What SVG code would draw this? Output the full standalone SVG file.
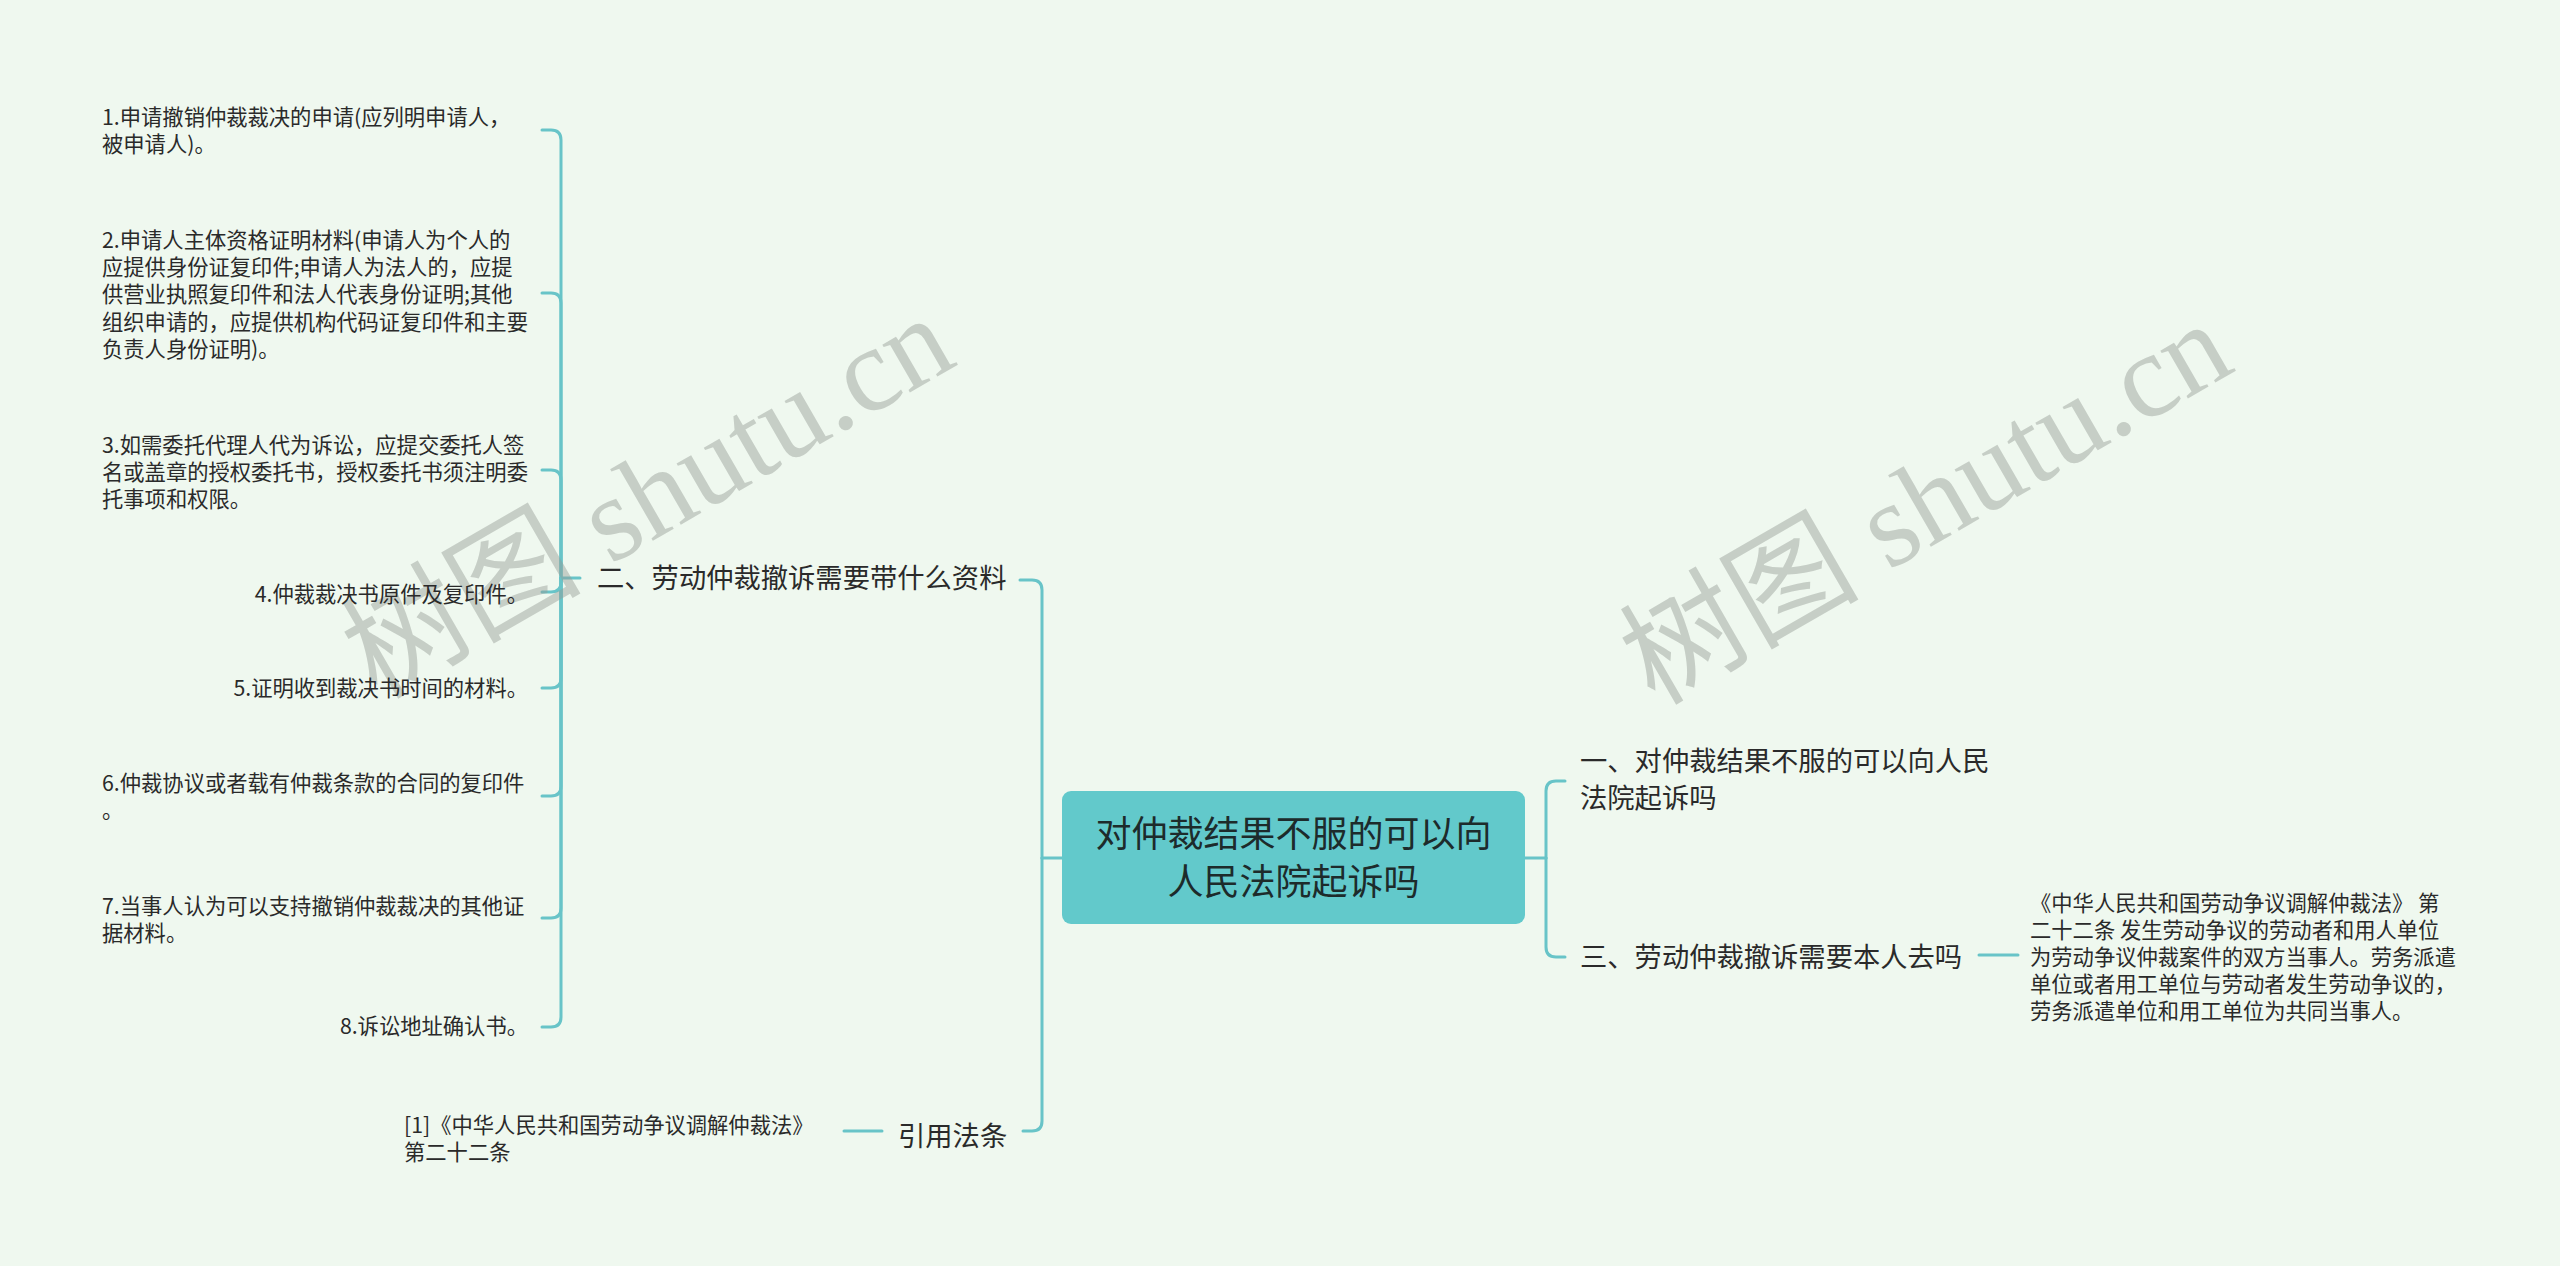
<svg xmlns="http://www.w3.org/2000/svg" width="2560" height="1266" viewBox="0 0 2560 1266">
<style>
.bg{fill:#EFF8EF}
.ln{fill:none;stroke:#68C4C8;stroke-width:3;stroke-linecap:round;stroke-linejoin:round}
.t{font-family:"Noto Sans CJK SC","Noto Sans",sans-serif;fill:#2a2a2a}
.leaf{font-size:21.3px}
.l1{font-size:27.3px}
.root{font-size:36px;fill:#1d2b2b}
.wm{font-family:"Liberation Serif","Noto Sans CJK SC",serif;font-size:120px;fill:#959b95;fill-opacity:0.45}
</style>
<rect class="bg" x="0" y="0" width="2560" height="1266"/>

<g id="connectors">
  <path class="ln" d="M580,578 L561,578"/>
  <path class="ln" d="M561,578 L561,140 Q561,130 551,130 L542,130"/>
  <path class="ln" d="M561,578 L561,303 Q561,293 551,293 L542,293"/>
  <path class="ln" d="M561,578 L561,480 Q561,470 551,470 L542,470"/>
  <path class="ln" d="M561,578 L561,582 Q561,592 551,592 L542,592"/>
  <path class="ln" d="M561,578 L561,678 Q561,688 551,688 L542,688"/>
  <path class="ln" d="M561,578 L561,786 Q561,796 551,796 L542,796"/>
  <path class="ln" d="M561,578 L561,908 Q561,918 551,918 L542,918"/>
  <path class="ln" d="M561,578 L561,1017 Q561,1027 551,1027 L542,1027"/>
  <path class="ln" d="M1062,858 L1042,858"/>
  <path class="ln" d="M1042,858 L1042,590 Q1042,580 1032,580 L1020,580"/>
  <path class="ln" d="M1042,858 L1042,1121 Q1042,1131 1032,1131 L1023,1131"/>
  <path class="ln" d="M882,1131 L844,1131"/>
  <path class="ln" d="M1525,858 L1546,858"/>
  <path class="ln" d="M1546,858 L1546,791 Q1546,781 1556,781 L1565,781"/>
  <path class="ln" d="M1546,858 L1546,947 Q1546,957 1556,957 L1565,957"/>
  <path class="ln" d="M1979,955 L2018,955"/>
</g>

<g id="watermarks">
  <text class="wm" x="0" y="0" text-anchor="middle" transform="translate(668,532) rotate(-30)">树图 shutu.cn</text>
  <text class="wm" x="0" y="0" text-anchor="middle" transform="translate(1946,538) rotate(-30)">树图 shutu.cn</text>
</g>

<g id="root">
  <rect x="1062" y="791" width="463" height="133" rx="9" ry="9" fill="#62C9CB"/>
  <text class="t root" text-anchor="middle" x="1293.5" y="847">对仲裁结果不服的可以向</text>
  <text class="t root" text-anchor="middle" x="1293.5" y="895">人民法院起诉吗</text>
</g>

<g id="n-er">
  <text class="t l1" x="597" y="588">二、劳动仲裁撤诉需要带什么资料</text>
</g>
<g id="n-yi">
  <text class="t l1" x="1580" y="771">一、对仲裁结果不服的可以向人民</text>
  <text class="t l1" x="1580" y="808">法院起诉吗</text>
</g>
<g id="n-san">
  <text class="t l1" x="1580" y="967">三、劳动仲裁撤诉需要本人去吗</text>
</g>
<g id="n-yinyong">
  <text class="t l1" x="898" y="1146">引用法条</text>
</g>

<g id="item1">
  <text class="t leaf" x="102" y="125">1.申请撤销仲裁裁决的申请(应列明申请人，</text>
  <text class="t leaf" x="102" y="152">被申请人)。</text>
</g>
<g id="item2">
  <text class="t leaf" x="102" y="248">2.申请人主体资格证明材料(申请人为个人的</text>
  <text class="t leaf" x="102" y="275">应提供身份证复印件;申请人为法人的，应提</text>
  <text class="t leaf" x="102" y="302">供营业执照复印件和法人代表身份证明;其他</text>
  <text class="t leaf" x="102" y="330">组织申请的，应提供机构代码证复印件和主要</text>
  <text class="t leaf" x="102" y="357">负责人身份证明)。</text>
</g>
<g id="item3">
  <text class="t leaf" x="102" y="453">3.如需委托代理人代为诉讼，应提交委托人签</text>
  <text class="t leaf" x="102" y="480">名或盖章的授权委托书，授权委托书须注明委</text>
  <text class="t leaf" x="102" y="507">托事项和权限。</text>
</g>
<g id="item4">
  <text class="t leaf" x="528" y="602" text-anchor="end">4.仲裁裁决书原件及复印件。</text>
</g>
<g id="item5">
  <text class="t leaf" x="528" y="696" text-anchor="end">5.证明收到裁决书时间的材料。</text>
</g>
<g id="item6">
  <text class="t leaf" x="102" y="791">6.仲裁协议或者载有仲裁条款的合同的复印件</text>
  <text class="t leaf" x="102" y="818">。</text>
</g>
<g id="item7">
  <text class="t leaf" x="102" y="914">7.当事人认为可以支持撤销仲裁裁决的其他证</text>
  <text class="t leaf" x="102" y="941">据材料。</text>
</g>
<g id="item8">
  <text class="t leaf" x="528" y="1034" text-anchor="end">8.诉讼地址确认书。</text>
</g>

<g id="leaf-law-left">
  <text class="t leaf" x="404" y="1133">[1]《中华人民共和国劳动争议调解仲裁法》</text>
  <text class="t leaf" x="404" y="1160">第二十二条</text>
</g>
<g id="leaf-law-right">
  <text class="t leaf" x="2030" y="911">《中华人民共和国劳动争议调解仲裁法》 第</text>
  <text class="t leaf" x="2030" y="938">二十二条 发生劳动争议的劳动者和用人单位</text>
  <text class="t leaf" x="2030" y="965">为劳动争议仲裁案件的双方当事人。劳务派遣</text>
  <text class="t leaf" x="2030" y="992">单位或者用工单位与劳动者发生劳动争议的，</text>
  <text class="t leaf" x="2030" y="1019">劳务派遣单位和用工单位为共同当事人。</text>
</g>
</svg>
